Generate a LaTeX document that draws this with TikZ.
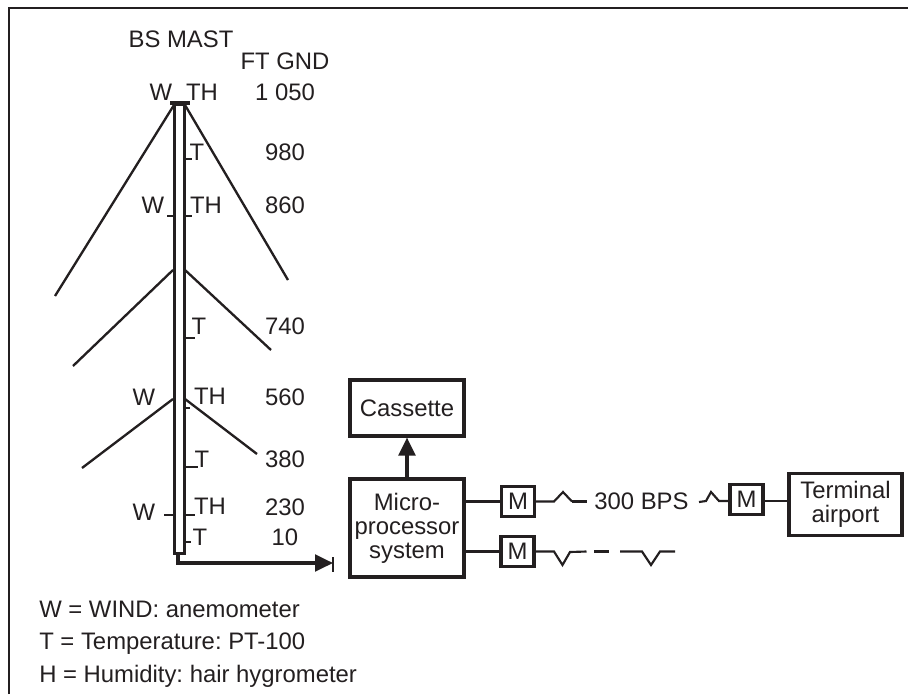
\documentclass[tikz,border=0pt]{standalone}
\usepackage{fontspec}
\setmainfont{Liberation Sans}
\usetikzlibrary{arrows.meta}
\definecolor{ink}{RGB}{35,31,32}
\tikzset{
  lbl/.style={inner sep=0pt,text=ink,font=\fontsize{17.9}{18}\selectfont},
  box/.style={draw=ink,line width=2.3pt,fill=white,inner sep=0pt,align=center,text=ink,font=\fontsize{17.9}{18}\selectfont},
  wire/.style={draw=ink,line width=2.1pt},
  thin wire/.style={draw=ink,line width=1.6pt},
  stay/.style={draw=ink,line width=1.75pt},
  tick/.style={draw=ink,line width=2.2pt},
  arr/.style={draw=ink,line width=2.3pt,-{Triangle[length=13.5pt,width=12.5pt]}}
}
\begin{document}
\frenchspacing
\begin{tikzpicture}[x=0.75pt,y=-0.75pt]
\useasboundingbox (0,0) rectangle (908,694);
\coordinate (fa) at (9,694);\coordinate (fb) at (9,8);\coordinate (fc) at (908,8);
\draw[ink,line width=1.6pt] (fa) -- (fb) -- (fc);
% mast
\node[draw=ink,line width=2.1pt,minimum width=8pt,minimum height=336.75pt,inner sep=0pt,anchor=north] (mast) at (179.5,103) {};
\coordinate (topL) at (174,105);\coordinate (topR) at (185,105);
\coordinate (barL) at (170,103);\coordinate (barR) at (190,103);
\draw[tick,line width=3pt] (barL) -- (barR);
% stays
\coordinate (s1a) at (55,296);\coordinate (s1b) at (288,280);
\coordinate (s2a) at (73,366);\coordinate (s2b) at (271,350);
\coordinate (s3a) at (82,468);\coordinate (s3b) at (257,454);
\draw[stay] (topL) -- (s1a);
\draw[stay] (topR) -- (s1b);
\draw[stay] (173,270) -- (s2a);
\draw[stay] (185,270) -- (s2b);
\draw[stay] (173,399) -- (s3a);
\draw[stay] (185,399) -- (s3b);
% ticks
\draw[tick] (185,159) -- (192,159);
\draw[tick] (167,216) -- (174,216);
\draw[tick] (185,216) -- (192,216);
\draw[tick] (185,338) -- (195,338);
\draw[tick] (185,408) -- (190,408);
\draw[tick] (185,467) -- (198,467);
\draw[tick] (164,515) -- (174,515);
\draw[tick] (185,515) -- (195,515);
\draw[tick] (185,542) -- (191,542);
% mast labels
\node[lbl] (t1) at (181,39) {BS MAST};
\node[lbl] (t2) at (285,61) {FT GND};
\node[lbl] (a1) at (161,92) {W};
\node[lbl] (a2) at (202,92) {TH};
\node[lbl] (a3) at (285,92) {1 050};
\node[lbl] (b1) at (197,152) {T};
\node[lbl] (b2) at (285,152) {980};
\node[lbl] (c1) at (153,205) {W};
\node[lbl] (c2) at (206,205) {TH};
\node[lbl] (c3) at (285,205) {860};
\node[lbl] (d1) at (199,326) {T};
\node[lbl] (d2) at (285,326) {740};
\node[lbl] (e1) at (144,397) {W};
\node[lbl] (e2) at (210,396) {TH};
\node[lbl] (e3) at (285,397) {560};
\node[lbl] (f1) at (202,459) {T};
\node[lbl] (f2) at (285,459) {380};
\node[lbl] (g1) at (144,512) {W};
\node[lbl] (g2) at (210,506) {TH};
\node[lbl] (g3) at (285,507) {230};
\node[lbl] (h1) at (200,537) {T};
\node[lbl] (h2) at (285,537) {10};
% boxes
\node[box,minimum width=85.5pt,minimum height=42pt] (cass) at (407,408) {Cassette};
\node[box,minimum width=85.5pt,minimum height=73.5pt] (micro) at (407,528) {Micro-\\processor\\system};
\node[box,minimum width=24.75pt,minimum height=23pt] (m1) at (518,501.5) {M};
\node[box,minimum width=24.75pt,minimum height=23pt] (m2) at (517.5,551.5) {M};
\node[box,minimum width=24.75pt,minimum height=23pt] (m3) at (746.5,499.5) {M};
\node[box,minimum width=84.75pt,minimum height=47pt] (term) at (845.5,504.5) {Terminal\\airport};
\node[lbl] (bps) at (641.5,501) {300 BPS};
% connectors
\coordinate (mastfoot) at (178,552);
\coordinate (stop) at (333,563);
\coordinate (stopa) at (333,557);\coordinate (stopb) at (333,572);
\draw[arr] (mastfoot) |- (stop);
\draw[tick] (stopa) -- (stopb);
\draw[arr] (micro.north) -- (cass.south);
\draw[wire] (micro.east |- m1.west) -- (m1.west);
\draw[wire] (micro.east |- m2.west) -- (m2.west);
\draw[wire] (m3.east |- 0,501) -- (term.west |- 0,501);
\draw[thin wire] (m1.east) -- (554,501.5) -- (563,492) -- (572,501.5);
\draw[wire] (572,501.5) -- (587,501.5);
\draw[thin wire] (699,502) -- (706,501) -- (711,492) -- (719,501) -- (m3.west |- 0,501);
\draw[thin wire] (m2.east) -- (554,551.5) -- (562.5,565) -- (570,552) -- (586.5,551.5);
\draw[wire] (594,551.5) -- (608.5,551.5);
\draw[thin wire] (620,551.5) -- (642,551.5) -- (651,565) -- (660,551.5) -- (675,551.5);
% legend
\node[lbl,anchor=base west] (l1) at (39,617) {W = WIND: anemometer};
\node[lbl,anchor=base west] (l2) at (39,649) {T = Temperature: PT-100};
\node[lbl,anchor=base west] (l3) at (39,682) {H = Humidity: hair hygrometer};
\end{tikzpicture}
\end{document}
